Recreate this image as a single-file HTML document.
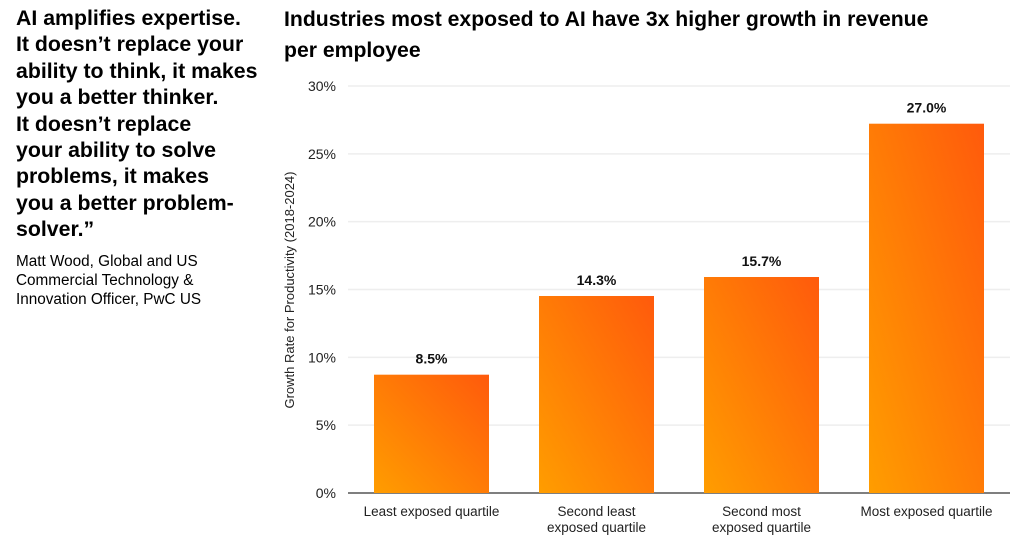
<!DOCTYPE html>
<html><head><meta charset="utf-8"><style>
body{margin:0;width:1012px;height:539px;background:#fff;font-family:"Liberation Sans",sans-serif;position:relative;overflow:hidden;color:#000}
.quote{position:absolute;left:16px;top:5px;font-weight:bold;font-size:21.3px;line-height:26.4px;width:270px}
.attr{position:absolute;left:16px;top:252px;font-size:15.3px;line-height:19.2px;width:240px}
.title{position:absolute;left:284px;top:4px;font-weight:bold;font-size:21.2px;line-height:31px;width:720px}
</style></head><body>
<div class="quote">AI amplifies expertise.<br>It doesn’t replace your<br>ability to think, it makes<br>you a better thinker.<br>It doesn’t replace<br>your ability to solve<br>problems, it makes<br>you a better problem-<br>solver.”</div>
<div class="attr">Matt Wood, Global and US<br>Commercial Technology &amp;<br>Innovation Officer, PwC US</div>
<div class="title">Industries most exposed to AI have 3x higher growth in revenue<br>per employee</div>
<svg id="chart" width="1012" height="539" style="position:absolute;left:0;top:0" font-family="Liberation Sans, sans-serif">
<defs><linearGradient id="g" x1="0" y1="1" x2="1" y2="0"><stop offset="0" stop-color="#ff9d00"/><stop offset="1" stop-color="#ff5a0c"/></linearGradient></defs>
</svg>
<script>
const categories=[["Least exposed quartile"],["Second least","exposed quartile"],["Second most","exposed quartile"],["Most exposed quartile"]];
const values=[8.5,14.3,15.7,27.0];
const valueLabels=["8.5%","14.3%","15.7%","27.0%"];
const ticks=[0,5,10,15,20,25,30];
const tickLabels=["0%","5%","10%","15%","20%","25%","30%"];
const svg=document.getElementById('chart');
const NS="http://www.w3.org/2000/svg";
const y0=493,pxPer=(493-86)/30;
const y=v=>y0-v*pxPer;
const x=i=>374+i*165;
function mk(t,a){const e=document.createElementNS(NS,t);for(const k in a)e.setAttribute(k,a[k]);svg.appendChild(e);return e;}
ticks.forEach((t,i)=>{
 const l=mk('line',{x1:348,x2:1010,y1:y(t),y2:y(t),stroke:t===0?'#333':'#eee','stroke-width':t===0?1.2:1.5});
 
 
 const tx=mk('text',{x:336,y:y(t)+5,'text-anchor':'end','font-size':14,fill:'#222'});
 tx.textContent=tickLabels[i];
 
 
});
values.forEach((v,i)=>{
 const top=y(v)-3;
 const r=mk('rect',{x:x(i),y:top,width:115,height:y0-top,fill:'url(#g)'});
 
 
 const t=mk('text',{x:x(i)+57.5,y:top-11,'text-anchor':'middle','font-size':14,'font-weight':'bold',fill:'#111'});
 t.textContent=valueLabels[i];
 
 
 categories[i].forEach((s,j)=>{
  const c=mk('text',{x:x(i)+57.5,y:516+j*16,'text-anchor':'middle','font-size':13.5,fill:'#222'});
  c.textContent=s;
  
  
 });
});
const yt=mk('text',{x:0,y:0,'text-anchor':'middle','font-size':13,fill:'#222',transform:'translate(294,290) rotate(-90)'});
yt.textContent="Growth Rate for Productivity (2018-2024)";


</script>
</body></html>
